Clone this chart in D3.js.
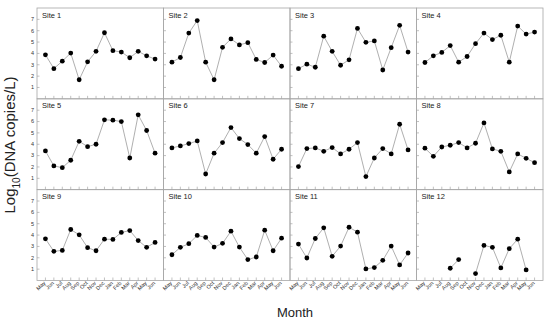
<!DOCTYPE html>
<html><head><meta charset="utf-8">
<script src="https://cdn.jsdelivr.net/npm/d3@7"></script>
<style>body{margin:0;background:#fff}svg{display:block}text{font-family:"Liberation Sans",Arial,sans-serif}</style>
</head><body>
<svg id="c" width="550" height="323"></svg>
<script>
const months = ["May","Jun","Jul","Aug","Sep","Oct","Nov","Dec","Jan","Feb","Mar","Apr","May","Jun"];
const sites = ["Site 1","Site 2","Site 3","Site 4","Site 5","Site 6","Site 7","Site 8","Site 9","Site 10","Site 11","Site 12"];
const yTicks = [1,2,3,4,5,6,7];
const site1 = [3.88,2.66,3.32,4.03,1.68,3.26,4.18,5.82,4.24,4.12,3.62,4.18,3.79,3.5];
const site2 = [3.23,3.64,5.79,6.89,3.23,1.68,4.54,5.28,4.75,4.95,3.47,3.2,3.85,2.87];
const site3 = [2.66,3.05,2.78,5.52,4.18,2.96,3.44,6.2,4.98,5.1,2.54,4.51,6.47,4.12];
const site4 = [3.2,3.79,4.09,4.69,3.23,3.73,4.86,5.79,5.22,5.6,3.23,6.41,5.7,5.88];
const site5 = [3.41,2.09,1.94,2.59,4.26,3.79,4.0,6.15,6.12,6.0,2.79,6.59,5.21,3.21];
const site6 = [3.68,3.85,4.06,4.29,1.38,3.21,4.15,5.47,4.5,3.97,3.21,4.68,2.68,3.56];
const site7 = [2.03,3.62,3.68,3.38,3.71,3.15,3.56,4.15,1.15,2.79,3.62,3.15,5.76,3.5];
const site8 = [3.65,2.94,3.76,3.91,4.15,3.68,4.09,5.88,3.59,3.38,1.56,3.15,2.76,2.38];
const site9 = [3.67,2.57,2.65,4.49,4.02,2.89,2.62,3.64,3.62,4.23,4.4,3.52,2.92,3.35];
const site10 = [2.27,2.92,3.24,3.97,3.79,2.94,3.27,4.34,2.94,1.84,2.07,4.43,2.62,3.73];
const site11 = [3.21,1.98,3.7,4.64,2.13,3.03,4.69,4.26,1.02,1.14,1.78,3.03,1.37,2.42];
const site12 = [null,null,null,1.08,1.84,null,0.61,3.09,2.92,1.11,2.8,3.64,0.93,null];
const series = [site1,site2,site3,site4,site5,site6,site7,site8,site9,site10,site11,site12];

const svg = d3.select("#c");
const L = 37, R = 543, T = 8, B = 280.5;
const cw = (R - L) / 4, rh = (B - T) / 3;
const x = d3.scaleLinear().domain([-1, 14]).range([0, cw]);
const y = d3.scaleLinear().domain([0, 8]).range([rh, 0]);
const frame = "#a6a6a6";

series.forEach((vals, k) => {
  const col = k % 4, row = Math.floor(k / 4);
  const g = svg.append("g").attr("transform", `translate(${L + col * cw},${T + row * rh})`);
  g.selectAll(".yt").data(yTicks).join("line")
    .attr("x1", 0).attr("x2", 2.5).attr("y1", d => y(d)).attr("y2", d => y(d))
    .attr("stroke", frame).attr("stroke-width", 0.7);
  if (col === 0) {
    g.selectAll(".yl").data(yTicks).join("text")
      .attr("x", -3).attr("y", d => y(d) + 1.8).attr("text-anchor", "end")
      .attr("font-size", 5.5).attr("fill", "#333").text(d => d);
  }
  g.selectAll(".xt").data(months).join("line")
    .attr("x1", (d, i) => x(i)).attr("x2", (d, i) => x(i)).attr("y1", rh).attr("y2", rh - 3)
    .attr("stroke", frame).attr("stroke-width", 0.7);
  if (row === 2) {
    g.selectAll(".xl").data(months).join("text")
      .attr("transform", (d, i) => `translate(${x(i) + 0.5},${rh + 3}) rotate(-45)`)
      .attr("text-anchor", "end").attr("font-size", 5.5).attr("fill", "#333").text(d => d);
  }
  g.append("rect").attr("x", 0).attr("y", 0).attr("width", cw).attr("height", rh)
    .attr("fill", "none").attr("stroke", frame).attr("stroke-width", 0.8);
  const line = d3.line().defined(d => d != null).x((d, i) => x(i)).y(d => y(d));
  g.append("path").attr("d", line(vals)).attr("fill", "none").attr("stroke", "#9a9a9a").attr("stroke-width", 0.8);
  g.selectAll("circle").data(vals.map((v, i) => ({v, i})).filter(d => d.v != null)).join("circle")
    .attr("cx", d => x(d.i)).attr("cy", d => y(d.v)).attr("r", 2.4).attr("fill", "#000");
  g.append("text").attr("x", 5).attr("y", 9.5).attr("font-size", 7.5).attr("fill", "#222").text(sites[k]);
});

svg.append("text").attr("transform", "translate(15,145) rotate(-90)").attr("text-anchor", "middle")
  .attr("font-size", 15).attr("fill", "#222")
  .call(t => { t.append("tspan").text("Log"); t.append("tspan").attr("font-size", 10).attr("dy", 4.5).text("10");
               t.append("tspan").attr("dy", -4.5).text("(DNA copies/L)"); });
svg.append("text").attr("x", 295).attr("y", 317).attr("text-anchor", "middle").attr("font-size", 13).attr("fill", "#222").text("Month");
</script>
</body></html>
